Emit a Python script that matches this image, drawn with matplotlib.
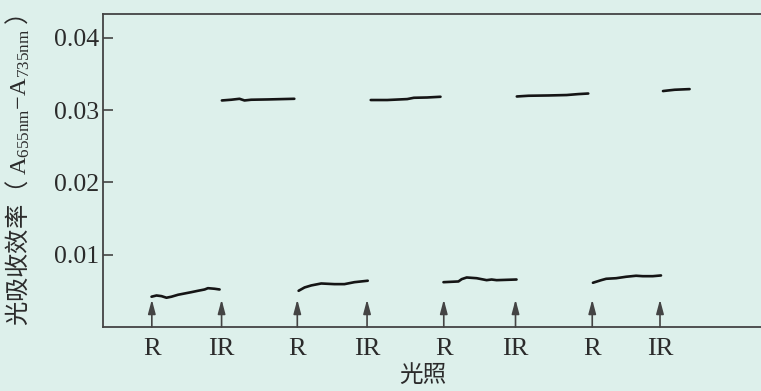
from __future__ import annotations

import matplotlib

matplotlib.use("Agg")
import matplotlib.pyplot as plt

BG = "#ddf0eb"
INK = "#2b2b2b"

# time axis in arbitrary units (0 at the y axis)
R_TIMES = [49, 195, 342, 491]
IR_TIMES = [119, 265, 414, 559]
ARROW_TIP = 0.0038

# absorbance traces after red light (R) ...
LOW_T = [
    [48.7, 53.7, 58.7, 63.7, 68.7, 75.3, 82, 88.7, 95.3, 102, 105.3, 112, 117],
    [196.3, 202.3, 209, 219, 232.3, 242.3, 252.3, 265.7],
    [341.7, 356.7, 360, 365, 375, 381.7, 385, 390, 395, 415],
    [491.7, 500, 505, 515, 525, 535, 541.7, 551.7, 560],
]
LOW_V = [
    [0.00419, 0.00436, 0.00427, 0.00405, 0.00419, 0.00446, 0.00464, 0.00482,
     0.00501, 0.00519, 0.00537, 0.00529, 0.00519],
    [0.00501, 0.00547, 0.00575, 0.00602, 0.00593, 0.00593, 0.0062, 0.0064],
    [0.0062, 0.0063, 0.00662, 0.00685, 0.00675, 0.00657, 0.00648, 0.00657,
     0.00648, 0.00657],
    [0.00612, 0.00648, 0.00667, 0.00675, 0.00695, 0.00709, 0.00703, 0.00703,
     0.00713],
]

# ... and after far-red light (IR)
HIGH_T = [
    [119.3, 128.7, 137, 142, 148.7, 165.3, 192],
    [268.7, 285.3, 305.3, 312, 325.3, 338.7],
    [415.3, 427, 447, 465.3, 477, 487],
    [562, 567, 573.7, 588.7],
]
HIGH_V = [
    [0.03134, 0.03144, 0.03157, 0.03134, 0.03144, 0.03148, 0.03157],
    [0.0314, 0.0314, 0.03153, 0.03171, 0.03175, 0.03185],
    [0.03189, 0.03199, 0.03203, 0.03209, 0.03222, 0.0323],
    [0.03264, 0.03272, 0.03282, 0.03291],
]

Y_TICKS = [0.01, 0.02, 0.03, 0.04]
Y_TICK_LABELS = ["0.01", "0.02", "0.03", "0.04"]

plt.rcParams["font.family"] = ["Liberation Serif", "Noto Sans CJK SC", "DejaVu Sans"]
plt.rcParams["mathtext.fontset"] = "custom"
plt.rcParams["mathtext.rm"] = "Liberation Serif"
plt.rcParams["mathtext.it"] = "Liberation Serif:italic"

fig = plt.figure(figsize=(7.61, 3.91), dpi=100, facecolor=BG)
ax = fig.add_axes([103 / 761, 64 / 391, 1 - 103 / 761 + 0.01, 313 / 391])
ax.set_facecolor(BG)

for ts, vs in zip(LOW_T + HIGH_T, LOW_V + HIGH_V, strict=True):
    ax.plot(ts, vs, color="#151515", linewidth=1.9, solid_capstyle="round")

for t in R_TIMES + IR_TIMES:
    ax.annotate(
        "",
        xy=(t, ARROW_TIP),
        xytext=(t, 0),
        arrowprops=dict(
            arrowstyle="-|>,head_length=0.6,head_width=0.16",
            mutation_scale=14,
            color="#444444",
            lw=1.2,
            shrinkA=0,
            shrinkB=0,
        ),
    )

ax.set_xlim(0, 668)
ax.set_ylim(0, 0.0433)

ticks = sorted(R_TIMES + IR_TIMES)
labels = ["R" if t in R_TIMES else "IR" for t in ticks]
ax.set_xticks(ticks, labels)
ax.tick_params(axis="x", length=0, pad=8, labelsize=19, labelcolor=INK)
ax.set_yticks(Y_TICKS, Y_TICK_LABELS)
ax.tick_params(axis="y", direction="in", length=7, width=1.2, color="#444444",
               pad=3, labelsize=18.5, labelcolor=INK)

for side in ("left", "bottom", "top"):
    ax.spines[side].set_color("#444444")
    ax.spines[side].set_linewidth(1.3)
ax.spines["right"].set_visible(False)

ax.set_ylabel(
    "光吸收效率（ $\\mathrm{A_{655nm}{-}A_{735nm}}$ ）",
    fontsize=17.5,
    color=INK,
    family=["Noto Sans CJK SC", "DejaVu Sans"],
)
ax.yaxis.set_label_coords(-0.106, 0.5)
ax.set_xlabel("光照", fontsize=17, color=INK, family=["Noto Sans CJK SC", "DejaVu Sans"])
ax.xaxis.set_label_coords(0.48, -0.117)

fig.savefig("out.png", dpi=100, facecolor=BG)
plt.close(fig)
